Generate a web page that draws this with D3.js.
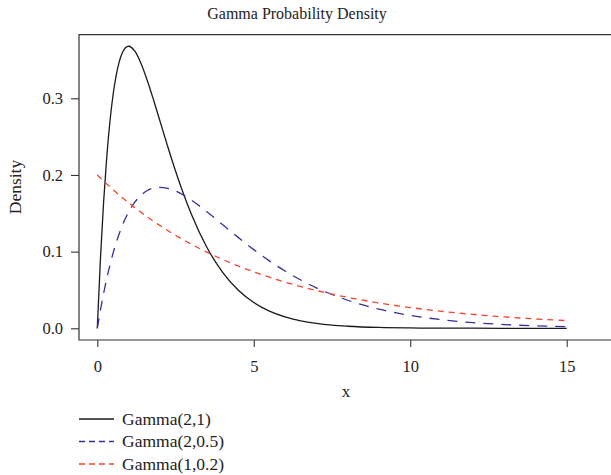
<!DOCTYPE html>
<html>
<head>
<meta charset="utf-8">
<script src="https://cdn.jsdelivr.net/npm/d3@7"></script>
<style>
  html, body { margin: 0; padding: 0; background: #fff; }
  svg { display: block; font-family: "Liberation Serif", "DejaVu Serif", serif; }
</style>
</head>
<body>
<svg id="chart" width="611" height="475"></svg>
<script>
// Sample points along x and the density of each distribution at those points
const xs = [0, 0.1, 0.2, 0.3, 0.4, 0.5, 0.6, 0.7, 0.8, 0.9, 1.0, 1.2, 1.4, 1.6, 1.8, 2.0,
  2.25, 2.5, 2.75, 3, 3.5, 4, 4.5, 5, 5.5, 6, 6.5, 7, 7.5, 8, 9, 10, 11, 12, 13, 14, 15];

const gamma21 = [0, 0.0905, 0.1637, 0.2222, 0.2681, 0.3033, 0.3293, 0.3476, 0.3595, 0.3659, 0.3679,
  0.3614, 0.3452, 0.3230, 0.2975, 0.2707, 0.2371, 0.2052, 0.1758, 0.1494, 0.1057, 0.0733, 0.0500,
  0.0337, 0.0225, 0.0149, 0.0098, 0.0064, 0.0041, 0.0027, 0.0011, 0.00045, 0.0002, 0.0001, 0.00003, 0.00001, 0];

const gamma205 = [0, 0.0238, 0.0452, 0.0646, 0.0819, 0.0974, 0.1111, 0.1233, 0.1341, 0.1435, 0.1516,
  0.1646, 0.1738, 0.1797, 0.1830, 0.1839, 0.1826, 0.1791, 0.1738, 0.1673, 0.1521, 0.1353, 0.1186,
  0.1026, 0.0879, 0.0747, 0.0630, 0.0528, 0.0441, 0.0366, 0.0250, 0.0168, 0.0112, 0.0074, 0.0049, 0.0032, 0.0021];

const gamma102 = [0.2, 0.1960, 0.1922, 0.1884, 0.1846, 0.1810, 0.1774, 0.1739, 0.1704, 0.1671, 0.1637,
  0.1573, 0.1512, 0.1452, 0.1395, 0.1341, 0.1275, 0.1213, 0.1154, 0.1098, 0.0993, 0.0899, 0.0813,
  0.0736, 0.0666, 0.0602, 0.0545, 0.0493, 0.0446, 0.0404, 0.0331, 0.0271, 0.0222, 0.0181, 0.0149, 0.0122, 0.0100];

const seriesNames = ["Gamma(2,1)", "Gamma(2,0.5)", "Gamma(1,0.2)"];
const seriesValues = [gamma21, gamma205, gamma102];
const seriesColors = ["#1a1a1a", "#35309a", "#f2452a"];
const seriesDash = [null, "10,8", "6,5"];
const legendDash = [null, "6,4", "6,4"];

const xTicks = [0, 5, 10, 15];
const yTicks = [0.0, 0.1, 0.2, 0.3];

const svg = d3.select("#chart");

// Plot region
const box = { left: 79, top: 34.7, right: 640, bottom: 340 };
const x = d3.scaleLinear().domain([0, 15]).range([97.3, 566.7]);
const y = d3.scaleLinear().domain([0, 0.3]).range([328.3, 98.3]);

// Frame (left, top, bottom edges; right edge runs past the canvas)
svg.append("path")
  .attr("d", `M${box.right},${box.top}H${box.left}V${box.bottom}H${box.right}`)
  .attr("fill", "none")
  .attr("stroke", "#333")
  .attr("stroke-width", 1.2);

// x axis
const xAxis = d3.axisBottom(x).tickValues(xTicks).tickSize(7).tickPadding(13)
  .tickFormat(d3.format("d"));
const gx = svg.append("g").attr("transform", `translate(0,${box.bottom})`).call(xAxis);
gx.select(".domain").remove();

// y axis
const yAxis = d3.axisLeft(y).tickValues(yTicks).tickSize(8).tickPadding(8)
  .tickFormat(d3.format(".1f"));
const gy = svg.append("g").attr("transform", `translate(${box.left},0)`).call(yAxis);
gy.select(".domain").remove();

svg.selectAll(".tick line").attr("stroke", "#333").attr("stroke-width", 1.1);
svg.selectAll(".tick text")
  .attr("font-family", "Liberation Serif, serif")
  .attr("font-size", 16.5)
  .attr("fill", "#222");

// Titles
svg.append("text")
  .attr("x", 297).attr("y", 19)
  .attr("text-anchor", "middle")
  .attr("font-size", 16).attr("fill", "#222")
  .text("Gamma Probability Density");

svg.append("text")
  .attr("x", 346).attr("y", 397)
  .attr("text-anchor", "middle")
  .attr("font-size", 17).attr("fill", "#222")
  .text("x");

svg.append("text")
  .attr("transform", "translate(21,187) rotate(-90)")
  .attr("text-anchor", "middle")
  .attr("font-size", 17.5).attr("fill", "#222")
  .text("Density");

// Curves
const line = d3.line()
  .x((d, i) => x(xs[i]))
  .y(d => y(d))
  .curve(d3.curveMonotoneX);

seriesValues.forEach((vals, k) => {
  svg.append("path")
    .datum(vals)
    .attr("d", line)
    .attr("fill", "none")
    .attr("stroke", seriesColors[k])
    .attr("stroke-width", 1.3)
    .attr("stroke-dasharray", seriesDash[k]);
});

// Legend below the plot
const legend = svg.append("g");
seriesNames.forEach((name, k) => {
  const cy = 419 + k * 22.5;
  legend.append("line")
    .attr("x1", 79).attr("x2", 114)
    .attr("y1", cy).attr("y2", cy)
    .attr("stroke", seriesColors[k])
    .attr("stroke-width", 1.3)
    .attr("stroke-dasharray", legendDash[k]);
  legend.append("text")
    .attr("x", 122).attr("y", cy + 5.5)
    .attr("font-size", 17.5).attr("fill", "#222")
    .text(name);
});
</script>
</body>
</html>
